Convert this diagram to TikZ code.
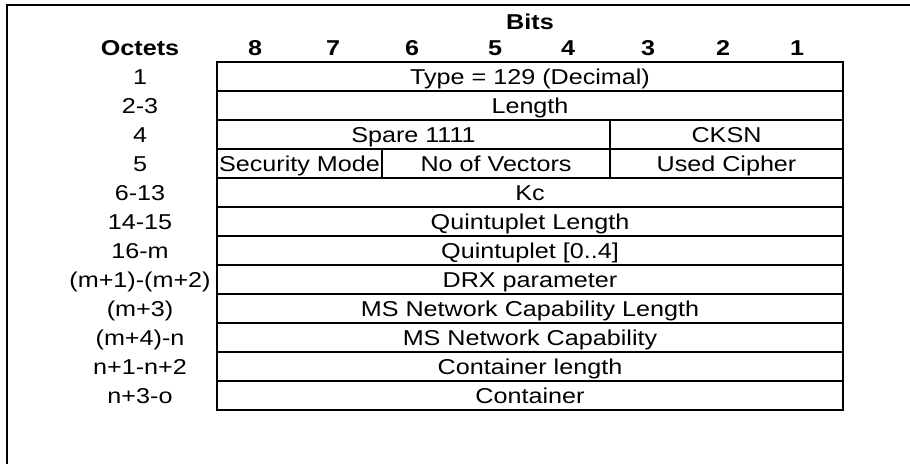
\documentclass[tikz,border=0pt]{standalone}
\usepackage{fontspec}
\setmainfont{Liberation Sans}[FakeStretch=1.17]
\newcommand{\cellfont}{\fontsize{21.5}{24}\selectfont}

\begin{document}
\begin{tikzpicture}[x = 1pt, y = -1pt,
  cell/.style = {draw, line width = 2pt, inner sep = 0, minimum height = 29pt,
                 text height = 15pt, text depth = 0pt, font = \cellfont},
  lab/.style = {inner sep = 0, text height = 15pt, text depth = 0pt, font = \cellfont},
  head/.style = {inner sep = 0, anchor = base, font = \cellfont\bfseries}]
  \useasboundingbox (0, 0) rectangle (910, 464);
  % frame, open to the right and below
  \draw[line width = 2pt] (910, 5) -- (7, 5) -- (7, 464);

  % headings
  \node[head] (bits) at (530, 29) {Bits};
  \node[head] (octets) at (140, 55) {Octets};
  \foreach \b/\x in {8/255, 7/333, 6/412, 5/495, 4/568, 3/648, 2/723, 1/797}
    \node[head] (bit\b) at (\x, 55) {\b};

  % octet numbers, one per row
  \foreach \o [count = \i] in {1, 2-3, 4, 5, 6-13, 14-15, 16-m, (m+1)-(m+2),
                               (m+3), (m+4)-n, n+1-n+2, n+3-o}
    \node[lab] (oct\i) at (140, {47.5 + 29*\i}) {\o};

  % fields
  \node[cell, minimum width = 626pt] (type) at (530, 76.5) {Type = 129 (Decimal)};
  \node[cell, minimum width = 626pt] (len) at (530, 105.5) {Length};
  \node[cell, minimum width = 393pt] (spare) at (413.5, 134.5) {Spare 1111};
  \node[cell, minimum width = 233pt] (cksn) at (726.5, 134.5) {CKSN};
  \node[cell, minimum width = 165pt] (secmode) at (299.5, 163.5) {Security Mode};
  \node[cell, minimum width = 228pt] (novec) at (496, 163.5) {No of Vectors};
  \node[cell, minimum width = 233pt] (cipher) at (726.5, 163.5) {Used Cipher};
  \node[cell, minimum width = 626pt] (kc) at (530, 192.5) {Kc};
  \node[cell, minimum width = 626pt] (qlen) at (530, 221.5) {Quintuplet Length};
  \node[cell, minimum width = 626pt] (quint) at (530, 250.5) {Quintuplet [0..4]};
  \node[cell, minimum width = 626pt] (drx) at (530, 279.5) {DRX parameter};
  \node[cell, minimum width = 626pt] (msncl) at (530, 308.5) {MS Network Capability Length};
  \node[cell, minimum width = 626pt] (msnc) at (530, 337.5) {MS Network Capability};
  \node[cell, minimum width = 626pt] (contlen) at (530, 366.5) {Container length};
  \node[cell, minimum width = 626pt] (cont) at (530, 395.5) {Container};
\end{tikzpicture}
\end{document}
